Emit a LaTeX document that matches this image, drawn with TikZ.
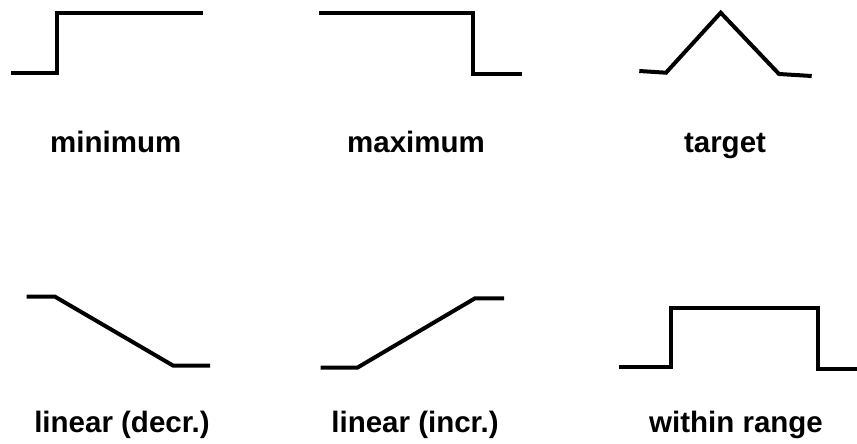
\documentclass[tikz,border=0pt]{standalone}
\usepackage{fontspec}
\setmainfont{Liberation Sans}
\usetikzlibrary{calc}

\begin{document}
\begin{tikzpicture}[x=1pt,y=-1pt,
  curve/.style={line width=4pt,line join=miter},
  lbl/.style={font=\fontsize{29.5}{35}\selectfont\bfseries,anchor=base,inner sep=0pt}]
\useasboundingbox (0,0) rectangle (857,444);

\draw[curve] (11,72.7) -- (57,72.7) -- (57,12.7) -- (203,12.7); %minimum
\draw[curve] (319,12.7) -- (472.7,12.7) -- (472.7,74) -- (521.7,74); %maximum
\draw[curve] (639.3,71) -- (666,72.7) -- (720.7,12.7) -- (779,74) -- (811.7,76); %target

\draw[curve] (26.7,296.7) -- (55,296.7) -- (173.3,365.7) -- (210,365.7); %linear decr
\draw[curve] (320.7,367.7) -- (357.3,367.7) -- (475,298.3) -- (504,298.3); %linear incr
\draw[curve] (619.3,367) -- (670.7,367) -- (670.7,308.3) -- (818.3,308.3)
  -- (818.3,368.7) -- (856.7,368.7); %within range

\node[lbl] (min) at (115.8,152.5) {minimum}; %labels
\node[lbl] (max) at (416,152.5) {maximum};
\node[lbl] (tgt) at (725,152.5) {target};
\node[lbl] (dec) at (122,432) {linear (decr.)};
\node[lbl] (inc) at (415,432) {linear (incr.)};
\node[lbl] (rng) at (736,432) {within range};

\end{tikzpicture}
\end{document}
